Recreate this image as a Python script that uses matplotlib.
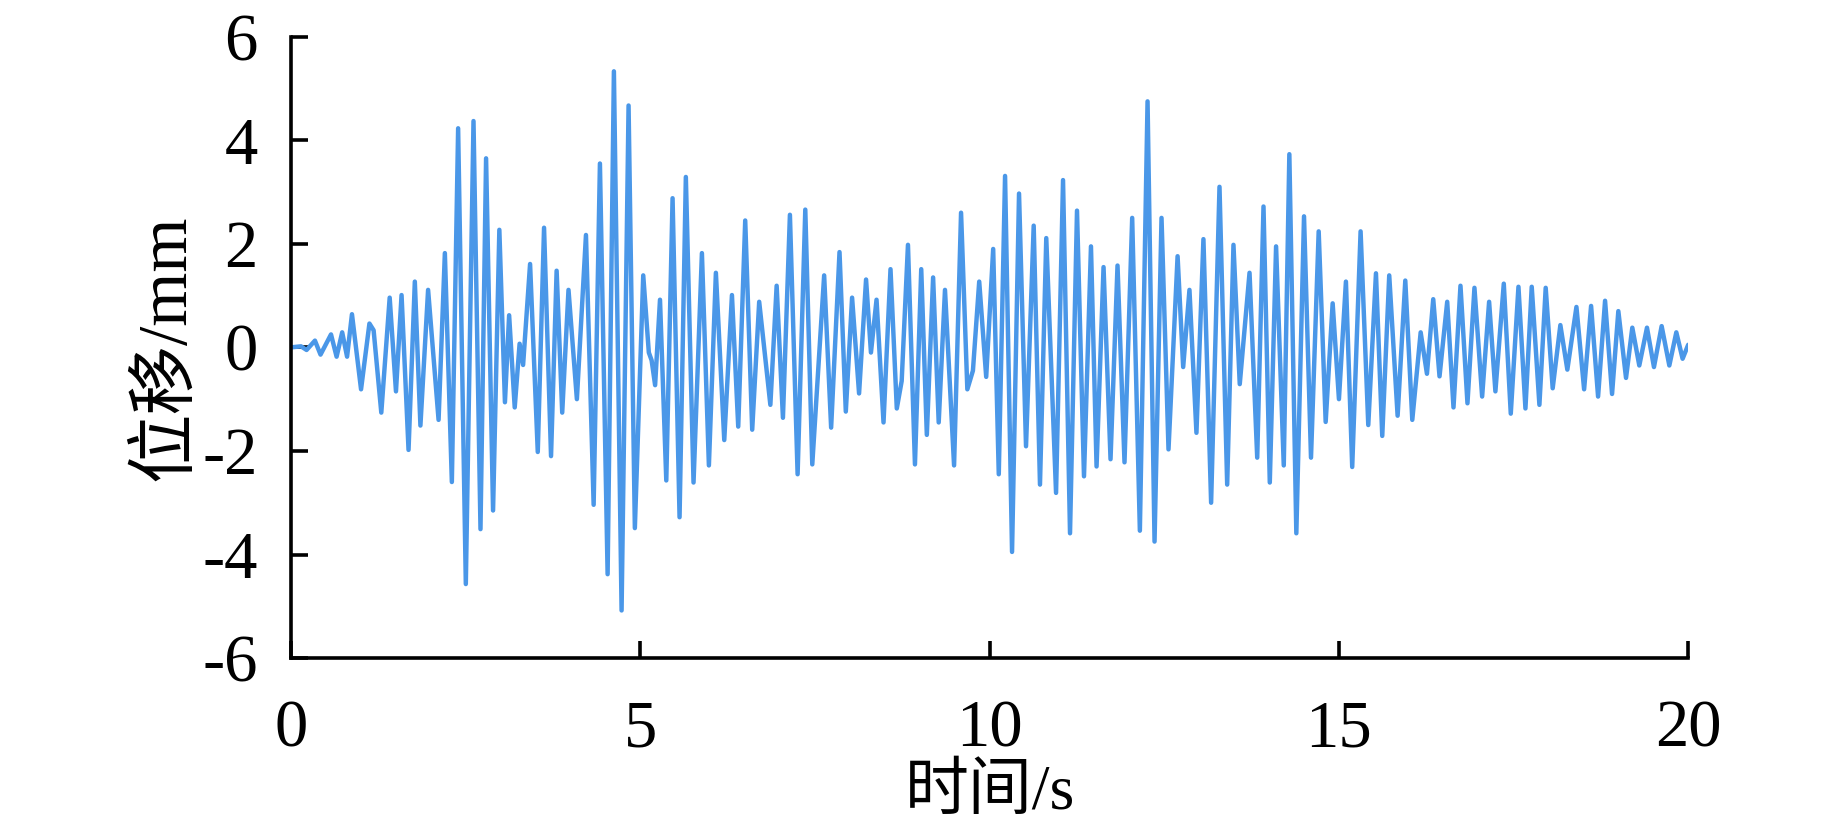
import matplotlib.pyplot as plt

# =========================
# 數據（由圖上讀取的峰谷點）
# =========================
time_s = [
    0.00, 0.14, 0.22, 0.34, 0.42, 0.57, 0.65, 0.73, 0.80, 0.87,
    1.00, 1.12, 1.18, 1.29, 1.41, 1.50, 1.58, 1.68, 1.77, 1.85,
    1.96, 2.11, 2.20, 2.30, 2.39, 2.50, 2.61, 2.71, 2.79, 2.89,
    2.98, 3.06, 3.12, 3.20, 3.27, 3.32, 3.42, 3.53, 3.62, 3.72,
    3.80, 3.88, 3.97, 4.09, 4.22, 4.33, 4.42, 4.53, 4.62, 4.73,
    4.83, 4.92, 5.04, 5.12, 5.16, 5.21, 5.28, 5.37, 5.46, 5.56,
    5.65, 5.76, 5.88, 5.98, 6.08, 6.20, 6.31, 6.40, 6.50, 6.60,
    6.70, 6.86, 6.95, 7.04, 7.14, 7.25, 7.36, 7.46, 7.63, 7.73,
    7.85, 7.94, 8.03, 8.13, 8.23, 8.30, 8.38, 8.48, 8.58, 8.67,
    8.74, 8.83, 8.93, 9.02, 9.10, 9.19, 9.27, 9.36, 9.49, 9.59,
    9.68, 9.76, 9.85, 9.95, 10.05, 10.13, 10.22, 10.32, 10.42, 10.52,
    10.63, 10.72, 10.81, 10.95, 11.05, 11.15, 11.25, 11.35, 11.45, 11.53,
    11.63, 11.73, 11.83, 11.93, 12.04, 12.15, 12.26, 12.36, 12.46, 12.56,
    12.69, 12.77, 12.86, 12.96, 13.06, 13.17, 13.29, 13.40, 13.49, 13.58,
    13.72, 13.83, 13.92, 14.01, 14.10, 14.21, 14.29, 14.39, 14.50, 14.60,
    14.71, 14.81, 14.91, 15.00, 15.10, 15.19, 15.31, 15.42, 15.53, 15.62,
    15.72, 15.84, 15.95, 16.05, 16.17, 16.26, 16.35, 16.44, 16.55, 16.64,
    16.74, 16.84, 16.94, 17.05, 17.15, 17.24, 17.36, 17.46, 17.57, 17.67,
    17.76, 17.87, 17.96, 18.06, 18.17, 18.27, 18.40, 18.51, 18.61, 18.71,
    18.81, 18.91, 19.00, 19.11, 19.20, 19.30, 19.41, 19.51, 19.62, 19.73,
    19.83, 19.92, 20.00,
]

disp_mm = [
    0.00, 0.02, -0.05, 0.13, -0.14, 0.25, -0.18, 0.29, -0.18, 0.64,
    -0.81, 0.46, 0.33, -1.26, 0.96, -0.85, 1.01, -1.98, 1.27, -1.51,
    1.11, -1.40, 1.82, -2.60, 4.23, -4.57, 4.37, -3.51, 3.65, -3.15,
    2.27, -1.06, 0.62, -1.16, 0.07, -0.34, 1.61, -2.02, 2.31, -2.10,
    1.48, -1.26, 1.11, -1.00, 2.17, -3.04, 3.55, -4.38, 5.33, -5.08,
    4.67, -3.49, 1.39, -0.10, -0.25, -0.73, 0.92, -2.57, 2.88, -3.28,
    3.29, -2.61, 1.82, -2.28, 1.44, -1.79, 1.01, -1.53, 2.45, -1.59,
    0.88, -1.11, 1.19, -1.36, 2.56, -2.45, 2.66, -2.26, 1.39, -1.55,
    1.84, -1.24, 0.96, -0.89, 1.31, -0.10, 0.92, -1.45, 1.51, -1.18,
    -0.65, 1.98, -2.26, 1.51, -1.69, 1.35, -1.45, 1.11, -2.28, 2.60,
    -0.81, -0.45, 1.27, -0.57, 1.90, -2.45, 3.31, -3.95, 2.97, -1.91,
    2.35, -2.65, 2.11, -2.81, 3.23, -3.59, 2.64, -2.49, 1.95, -2.30,
    1.55, -2.16, 1.58, -2.22, 2.50, -3.54, 4.75, -3.75, 2.50, -1.97,
    1.76, -0.38, 1.11, -1.65, 2.09, -3.00, 3.10, -2.65, 1.98, -0.71,
    1.44, -2.13, 2.72, -2.61, 1.95, -2.28, 3.73, -3.59, 2.53, -2.13,
    2.24, -1.44, 0.85, -1.00, 1.27, -2.31, 2.24, -1.50, 1.43, -1.71,
    1.39, -1.32, 1.29, -1.40, 0.29, -0.51, 0.93, -0.56, 0.88, -1.16,
    1.19, -1.08, 1.15, -0.95, 0.88, -0.85, 1.23, -1.28, 1.17, -1.18,
    1.17, -1.11, 1.15, -0.79, 0.43, -0.43, 0.78, -0.81, 0.80, -0.95,
    0.90, -0.90, 0.70, -0.59, 0.38, -0.35, 0.38, -0.38, 0.41, -0.35,
    0.29, -0.22, 0.05,
]

x_ticks = [0, 5, 10, 15, 20]
y_ticks = [-6, -4, -2, 0, 2, 4, 6]

# =========================
# 畫圖
# =========================
plt.rcParams['font.family'] = ['Liberation Serif', 'Noto Sans CJK SC']
plt.rcParams['axes.unicode_minus'] = False

fig = plt.figure(figsize=(18.43, 8.32), dpi=100)
ax = fig.add_axes([0.158, 0.209, 0.758, 0.747])

ax.plot(time_s, disp_mm, color="#4A97E8", linewidth=3.2,
        solid_joinstyle="round", solid_capstyle="round")

ax.set_xlim(0, 20)
ax.set_ylim(-6, 6)
ax.set_xticks(x_ticks)
ax.set_yticks(y_ticks)

for side in ["top", "right"]:
    ax.spines[side].set_visible(False)
for side in ["left", "bottom"]:
    ax.spines[side].set_linewidth(2.6)

ax.tick_params(axis="both", direction="in", length=12, width=2.6, labelsize=48)
ax.tick_params(axis="y", pad=24)
ax.tick_params(axis="x", pad=30)

ax.set_xlabel("时间/s", fontsize=46, labelpad=3)
ax.set_ylabel("位移/mm", fontsize=50, labelpad=2)

fig.savefig("out.png", dpi=100, facecolor="white")
